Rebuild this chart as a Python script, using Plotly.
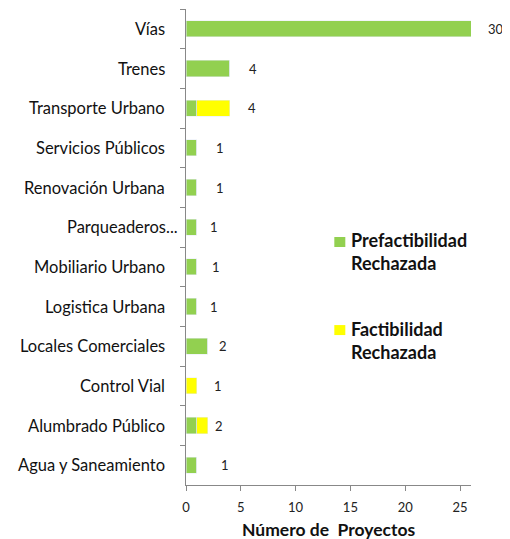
import plotly.graph_objects as go

categories = ["Vías", "Trenes", "Transporte Urbano", "Servicios Públicos", "Renovación Urbana",
              "Parqueaderos...", "Mobiliario Urbano", "Logistica Urbana", "Locales Comerciales",
              "Control Vial", "Alumbrado Público", "Agua y Saneamiento"]
prefactibilidad = [30, 4, 1, 1, 1, 1, 1, 1, 2, 0, 1, 1]
factibilidad = [0, 0, 3, 0, 0, 0, 0, 0, 0, 1, 1, 0]
totals = [p + f for p, f in zip(prefactibilidad, factibilidad)]
x_max = 26
x_ticks = [0, 5, 10, 15, 20, 25]

# label offsets in pixels (style only)
label_shift = [25, 23, 22, 23, 23, 17, 19, 17, 15, 21, 11, 28]
cat_label_gap = [19, 19, 19, 19, 19, 6, 19, 19, 19, 19, 19, 19]

FONT = "Lato"
GREEN = "#92D050"
YELLOW = "#FFFF00"

fig = go.Figure()
fig.add_trace(go.Bar(y=categories, x=prefactibilidad, orientation="h",
                     name="Prefactibilidad Rechazada", marker_color=GREEN))
fig.add_trace(go.Bar(y=categories, x=factibilidad, orientation="h",
                     name="Factibilidad Rechazada", marker_color=YELLOW))

# value labels
for c, t, s in zip(categories, totals, label_shift):
    fig.add_annotation(x=min(t, x_max), y=c, xref="x", yref="y", text=str(t),
                       showarrow=False, xanchor="center", xshift=s,
                       font=dict(family=FONT, size=13, color="#222"))

# category labels
for c, g in zip(categories, cat_label_gap):
    fig.add_annotation(x=0, y=c, xref="paper", yref="y", text=c, showarrow=False,
                       xanchor="right", xshift=-g,
                       font=dict(family=FONT, size=16.5, color="#111"))

# manual legend
legend_items = [("<b>Prefactibilidad<br>Rechazada</b>", GREEN, 0.500, 0.521, 0.4895),
                ("<b>Factibilidad<br>Rechazada</b>", YELLOW, 0.315, 0.336, 0.3045)]
for txt, col, y0, y1, yt in legend_items:
    fig.add_shape(type="rect", xref="paper", yref="paper", x0=0.5204, x1=0.559, y0=y0, y1=y1,
                  fillcolor=col, line=dict(width=0))
    fig.add_annotation(x=0.573, y=yt, xref="paper", yref="paper", text=txt, showarrow=False,
                       xanchor="left", yanchor="middle", align="left",
                       font=dict(family=FONT, size=18, color="#111"))

# x axis title
fig.add_annotation(x=0.5, y=0, xref="paper", yref="paper", text="<b>Número de  Proyectos</b>",
                   showarrow=False, xanchor="center", yanchor="middle", yshift=-44,
                   font=dict(family=FONT, size=17.5, color="#111"))

fig.update_layout(
    width=502, height=531,
    margin=dict(l=178, r=39, t=1, b=54),
    barmode="stack", bargap=0.59, showlegend=False,
    plot_bgcolor="white", paper_bgcolor="white",
    font=dict(family=FONT, size=14, color="#111"),
    xaxis=dict(range=[0, x_max], tickvals=x_ticks, showgrid=False, zeroline=False,
               showline=True, linecolor="#888", ticks="outside", ticklen=5, tickcolor="#888",
               tickfont=dict(family=FONT, size=13, color="#222"), ticklabelstandoff=5),
    yaxis=dict(autorange="reversed", showgrid=False, showline=True, linecolor="#888",
               ticks="outside", ticklen=5, tickcolor="#888", tickson="boundaries",
               showticklabels=False),
)

fig.write_html("out.html")
